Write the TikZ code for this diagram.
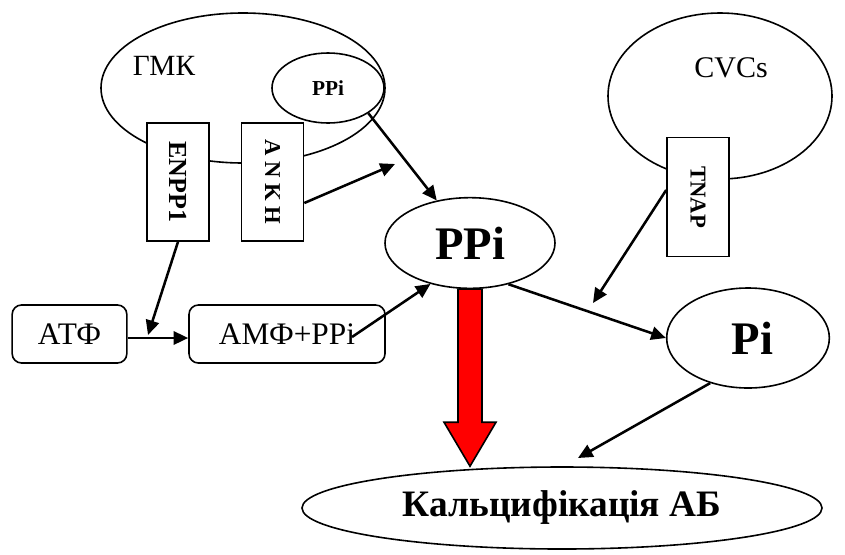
\documentclass[tikz,border=0pt]{standalone}
\usepackage{fontspec}
\setmainfont{Liberation Serif}
\usetikzlibrary{shapes.geometric,arrows.meta,calc}

\tikzset{
  oval/.style={ellipse,draw,line width=1.2pt,inner sep=0pt},
  enzyme/.style={rectangle,draw,fill=white,line width=1.2pt,inner sep=0pt,
    minimum width=46.5pt,minimum height=88.5pt,font=\fontsize{17}{17}\selectfont\bfseries},
  rbox/.style={rectangle,rounded corners=7pt,draw,line width=1.2pt,inner sep=0pt,
    minimum height=43.5pt,font=\fontsize{23.5}{23.5}\selectfont},
  link/.style={-{Triangle[length=11pt,width=10pt]},line width=1.9pt},
}

\begin{document}
\begin{tikzpicture}[x=0.75pt,y=-0.75pt]
\useasboundingbox (0,0) rectangle (845,554);
% cells and their enzymes
\node[oval,minimum width=213pt,minimum height=112.5pt] (gmk) at (243,88) {};
\node[font=\fontsize{22}{22}\selectfont] (gmklabel) at (164,66) {ГМК};
\node[oval,minimum width=84pt,minimum height=52.5pt,font=\fontsize{16}{16}\selectfont\bfseries] (ppismall) at (328,88) {PPi};
\node[enzyme,font=\fontsize{19.5}{19.5}\selectfont\bfseries] (enpp) at (178,182) {\rotatebox{-90}{ENPP1}};
\node[enzyme] (ankh) at (272.5,182) {\rotatebox{-90}{A N K H}};
\node[oval,minimum width=168pt,minimum height=124.5pt] (cvc) at (720,96) {};
\node[font=\fontsize{22.5}{22.5}\selectfont] (cvclabel) at (731,68) {CVCs};
\node[enzyme,minimum height=89pt] (tnap) at (698,197) {\rotatebox{-90}{TNAP}};
% metabolites
\node[oval,minimum width=127.5pt,minimum height=68pt,font=\fontsize{35}{35}\selectfont\bfseries] (ppi) at (470,243) {PPi};
\node[oval,minimum width=122pt,minimum height=75pt,font=\fontsize{35}{35}\selectfont\bfseries] (pi) at (748,338) {\hspace{7pt}Pi};
\node[oval,minimum width=390pt,minimum height=61.5pt,font=\fontsize{28}{28}\selectfont\bfseries] (calc) at (562,508) {Кальцифікація АБ};
\node[rbox,minimum width=86pt] (atf) at (69.5,334) {АТФ};
\node[rbox,minimum width=147pt] (amf) at (287,334) {АМФ+PPi\hspace{6pt}};
% free ends
\coordinate (ankhend) at (395,164);
\coordinate (enppend) at (148,335);
\coordinate (amfout) at (352,337);
\coordinate (tnapend) at (593,303);
\coordinate (piend) at (578,458);
% inhibition of calcification
\fill[red,draw=black,line width=1.2pt] ($(ppi.south)+(-12,0)$) -- ($(ppi.south)+(12,0)$)
  -- ($(ppi.south |- calc.north)+(12,-44)$) -- ($(ppi.south |- calc.north)+(26,-44)$)
  -- (ppi.south |- calc.north) -- ($(ppi.south |- calc.north)+(-26,-44)$)
  -- ($(ppi.south |- calc.north)+(-12,-44)$) -- cycle;
% arrows
\draw[link] (ppismall.-32) -- (ppi.128);
\draw[link] ($(ankh.east)+(0,21)$) -- (ankhend);
\draw[link] (enpp.south) -- (enppend);
\draw[link] ($(atf.east)+(0,4)$) -- ($(amf.west)+(0,4)$);
\draw[link] (amfout) -- (ppi.226);
\draw[link] (ppi.-47) -- (pi.west);
\draw[link] ($(tnap.west)+(0,-7)$) -- (tnapend);
\draw[link] (pi.-130) -- (piend);
\end{tikzpicture}
\end{document}
